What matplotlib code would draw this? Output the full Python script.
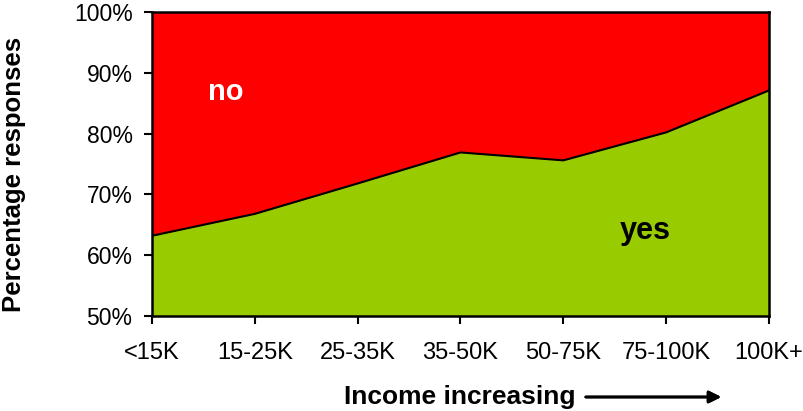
import numpy as np
import matplotlib.pyplot as plt
from matplotlib.ticker import FuncFormatter

plt.rcParams["font.family"] = ["Liberation Sans", "DejaVu Sans"]

# data
categories = ["<15K", "15-25K", "25-35K", "35-50K", "50-75K", "75-100K", "100K+"]
yes_pct = [63.2, 66.8, 71.8, 76.9, 75.6, 80.2, 87.1]
no_pct = [100 - v for v in yes_pct]

x = np.arange(len(categories))
yes = np.array(yes_pct)
no = np.array(no_pct)

W, H = 804, 411
fig = plt.figure(figsize=(W / 100, H / 100), dpi=100)
ax = fig.add_axes([152 / W, 1 - 316 / H, (769 - 152) / W, (316 - 12) / H])

ax.fill_between(x, 0, yes, color="#99cc00", linewidth=0)
ax.fill_between(x, yes, yes + no, color="#ff0000", linewidth=0)
ax.plot(x, yes, color="black", linewidth=1.5)

ax.set_xlim(0, len(categories) - 1)
ax.set_ylim(50, 100)
ax.set_xticks(x)
ax.set_xticklabels(categories, fontsize=17)
ax.set_yticks(np.arange(50, 101, 10))
ax.yaxis.set_major_formatter(FuncFormatter(lambda v, p: f"{v:.0f}%"))
ax.tick_params(axis="y", labelsize=16.5, length=6, width=1.5, pad=8)
ax.tick_params(axis="x", length=6, width=1.5, pad=13)

for s in ax.spines.values():
    s.set_linewidth(1.8)
    s.set_color("black")

ax.text(0.72, 86.9, "no", color="white", fontsize=21, fontweight="bold",
        ha="center", va="center")
ax.text(4.8, 64.0, "yes", color="black", fontsize=22, fontweight="bold",
        ha="center", va="center")

fig.text(14 / W, 1 - 174 / H, "Percentage responses", fontsize=18.5,
         fontweight="bold", rotation=90, ha="center", va="center")

# x label with arrow
fig.text(460 / W, 1 - 404 / H, "Income increasing", fontsize=19,
         fontweight="bold", ha="center", va="baseline")
fig.add_artist(plt.annotate("", xy=(724 / W, 1 - 397 / H),
                            xytext=(583 / W, 1 - 397 / H),
                            xycoords="figure fraction",
                            arrowprops=dict(arrowstyle="-|>", color="black",
                                            lw=2, mutation_scale=18)))

fig.savefig("out.png", dpi=100)
